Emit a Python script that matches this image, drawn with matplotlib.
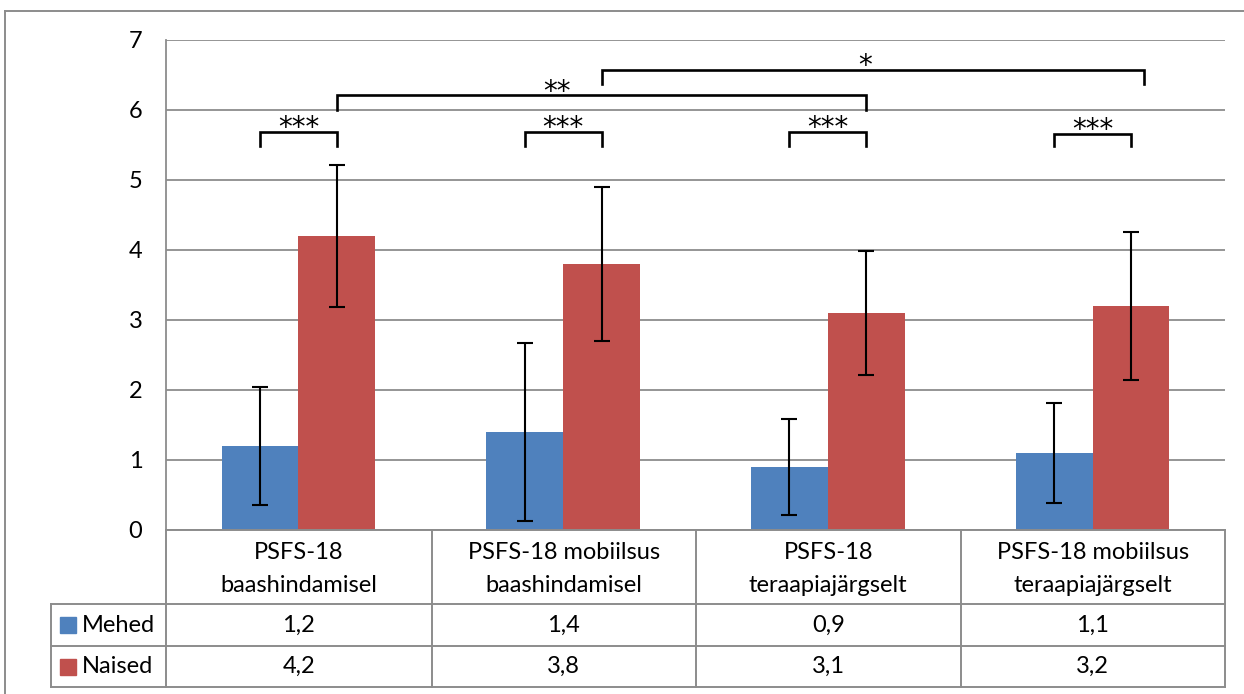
import matplotlib
matplotlib.use("Agg")
import matplotlib.pyplot as plt
from matplotlib.lines import Line2D
from matplotlib.patches import Rectangle
import numpy as np

plt.rcParams['font.family'] = ['Lato', 'DejaVu Sans']

categories = ["PSFS-18\nbaashindamisel", "PSFS-18 mobiilsus\nbaashindamisel",
              "PSFS-18\nteraapiajärgselt", "PSFS-18 mobiilsus\nteraapiajärgselt"]
series_names = ["Mehed", "Naised"]
mehed = [1.2, 1.4, 0.9, 1.1]
naised = [4.2, 3.8, 3.1, 3.2]
mehed_err = [0.84, 1.27, 0.69, 0.71]
naised_err = [1.01, 1.10, 0.88, 1.06]
table_mehed = ["1,2", "1,4", "0,9", "1,1"]
table_naised = ["4,2", "3,8", "3,1", "3,2"]
yticks = [0, 1, 2, 3, 4, 5, 6, 7]

# significance brackets: (cat1, series1, cat2, series2, top, leg_bottom, label, text_x_offset, right_extra)
sig = [
    (0, 0, 0, 1, 5.69, 5.49, "***", 0.0, 0.0),
    (1, 0, 1, 1, 5.69, 5.49, "***", 0.0, 0.0),
    (2, 0, 2, 1, 5.69, 5.49, "***", 0.0, 0.0),
    (3, 0, 3, 1, 5.66, 5.49, "***", 0.0, 0.0),
    (0, 1, 2, 1, 6.21, 6.00, "**", -0.17, 0.0),
    (1, 1, 3, 1, 6.57, 6.37, "*", -0.03, 0.05),
]

blue = "#4F81BD"
red = "#C0504D"
grid_c = "#8C8C8C"
W, H = 1244, 694
FS = 17

fig = plt.figure(figsize=(W / 100, H / 100), dpi=100)

def fx(x):
    return x / W

def fy(y):
    return 1 - y / H

ax_l, ax_r, ax_t, ax_b = 166, 1225, 40, 530
ax = fig.add_axes([fx(ax_l), fy(ax_b), fx(ax_r - ax_l), (ax_b - ax_t) / H])

x = np.arange(len(categories))
bw = 0.29
offs = [-bw / 2, bw / 2]
ax.bar(x + offs[0], mehed, bw, color=blue, zorder=2)
ax.bar(x + offs[1], naised, bw, color=red, zorder=2)
ax.errorbar(x + offs[0], mehed, yerr=mehed_err, fmt='none', ecolor='black',
            elinewidth=1.5, capsize=6, capthick=1.5, zorder=3)
ax.errorbar(x + offs[1], naised, yerr=naised_err, fmt='none', ecolor='black',
            elinewidth=1.5, capsize=6, capthick=1.5, zorder=3)

ax.set_xlim(-0.5, len(categories) - 0.5)
ax.set_ylim(0, 7)
ax.set_yticks(yticks)
ax.set_yticklabels([str(t) for t in yticks], fontsize=FS)
ax.tick_params(axis='y', length=0, pad=17)
ax.set_xticks([])
ax.yaxis.grid(True, color=grid_c, linewidth=1.3, zorder=0)
ax.set_axisbelow(True)
for s in ['top', 'right', 'bottom']:
    ax.spines[s].set_visible(False)
ax.spines['left'].set_color(grid_c)
ax.spines['left'].set_linewidth(1.3)

for c1, s1, c2, s2, top, bot, lab, toff, rextra in sig:
    xa = c1 + offs[s1]
    xb = c2 + offs[s2] + rextra
    ax.plot([xa, xa, xb, xb], [bot, top, top, bot], color='black', lw=1.9,
            solid_joinstyle='miter', zorder=4, clip_on=False)
    ax.text((xa + xb) / 2 + toff, top - 0.06, lab, ha='center', va='baseline',
            fontsize=20, family=['DejaVu Sans'], zorder=4)

# data table
tc = "#8C8C8C"
lw = 1.4
cols = [166, 431.5, 696, 960.5, 1225]
rows = [530, 604, 646, 687]
left = 51

def hline(x0, x1, y):
    fig.add_artist(Line2D([fx(x0), fx(x1)], [fy(y), fy(y)], color=tc, lw=lw))

def vline(x0, y0, y1):
    fig.add_artist(Line2D([fx(x0), fx(x0)], [fy(y0), fy(y1)], color=tc, lw=lw))

hline(cols[0], cols[-1], rows[0])
for r in rows[1:]:
    hline(left, cols[-1], r)
for c in cols:
    vline(c, rows[0], rows[-1])
vline(left, rows[1], rows[-1])

for i, cat in enumerate(categories):
    cx = (cols[i] + cols[i + 1]) / 2
    fig.text(fx(cx), fy((rows[0] + rows[1]) / 2 + 2), cat, ha='center', va='center',
             fontsize=FS, linespacing=1.7)
    fig.text(fx(cx), fy((rows[1] + rows[2]) / 2), table_mehed[i], ha='center',
             va='center', fontsize=FS)
    fig.text(fx(cx), fy((rows[2] + rows[3]) / 2), table_naised[i], ha='center',
             va='center', fontsize=FS)

for j, (name, col) in enumerate(zip(series_names, [blue, red])):
    yc = (rows[1 + j] + rows[2 + j]) / 2
    fig.add_artist(Rectangle((fx(60), fy(yc + 8)), fx(16), 16 / H, color=col,
                             transform=fig.transFigure))
    fig.text(fx(82), fy(yc), name, ha='left', va='center', fontsize=FS)

# outer border (partially visible)
fig.add_artist(Line2D([fx(5), fx(1244)], [fy(11), fy(11)], color=tc, lw=1.4))
fig.add_artist(Line2D([fx(5), fx(5)], [fy(11), fy(694)], color=tc, lw=1.4))

fig.savefig("out.png", dpi=100)
